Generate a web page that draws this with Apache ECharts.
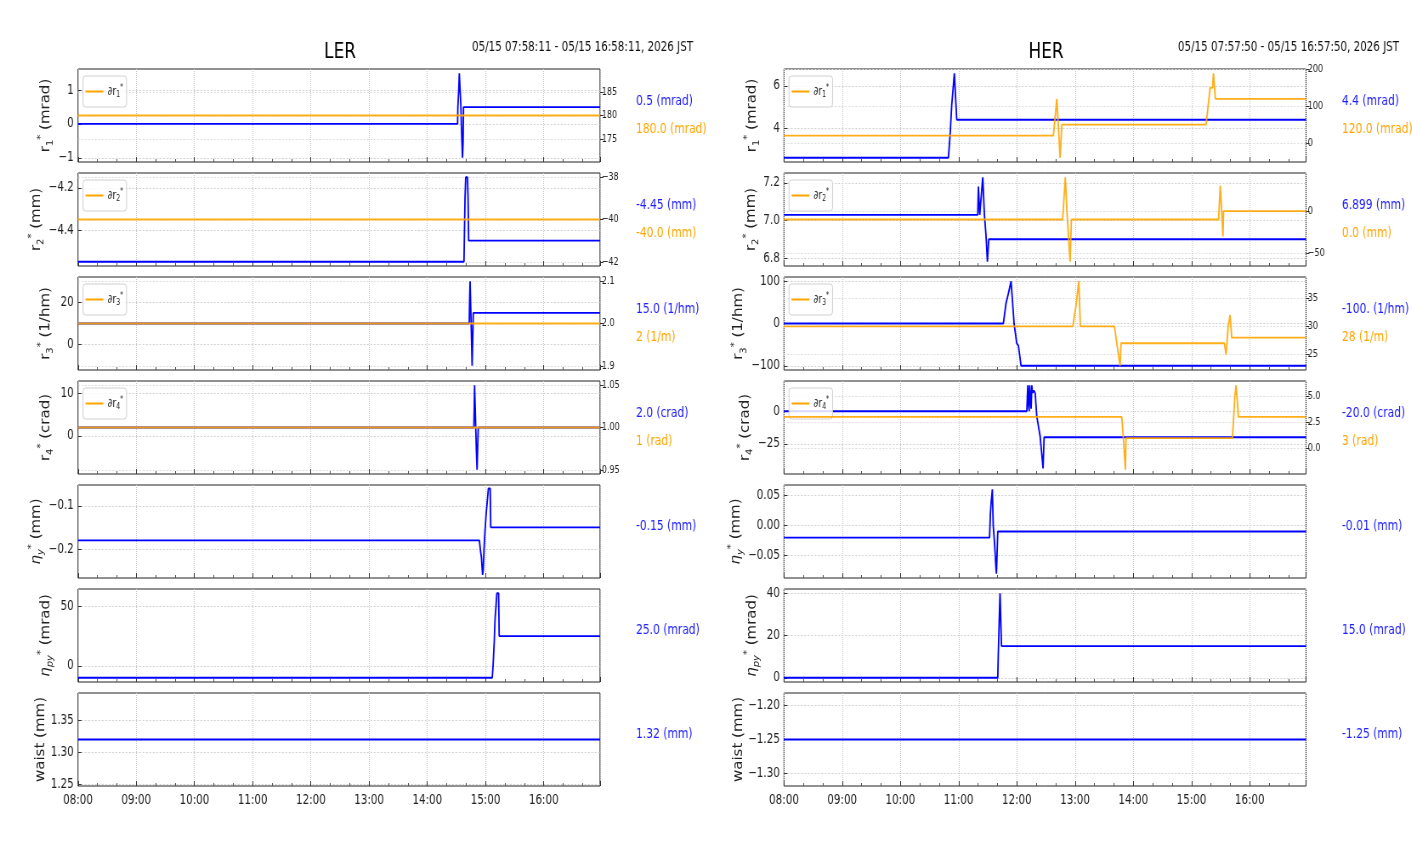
<!DOCTYPE html>
<html>
<head>
<meta charset="utf-8">
<script src="https://cdn.jsdelivr.net/npm/echarts@6/dist/echarts.min.js"></script>
<style>
  html, body { margin: 0; background: #fff; overflow: hidden; }
  /* the reference is drawn with narrow glyphs: render wider, then squeeze horizontally */
  #chart { width: 1661px; height: 864px; transform: scaleX(0.85); transform-origin: 0 0; }
</style>
</head>
<body>
<div id="chart"></div>
<script>
// time axis in hours (08:00 .. 16:58)
const T_MIN = 8;
const T_MAX = 16.967;

// ---- LER (blue = r*, orange = ∂r*) ----
const lerR1 = [[8, 0], [14.52, 0], [14.525, 0.5], [14.54, 1.0], [14.55, 1.5], [14.572, 1.5], [14.578, 0.5], [14.585, 0], [14.595, -0.5], [14.605, -1.0], [14.615, -0.5], [14.622, 0.5], [16.967, 0.5]];
const lerR1b = [[8, 180], [16.967, 180]];
const lerR2 = [[8, -4.55], [14.63, -4.55], [14.636, -4.45], [14.648, -4.25], [14.66, -4.15], [14.69, -4.15], [14.70, -4.25], [14.71, -4.45], [16.967, -4.45]];
const lerR2b = [[8, -40], [16.967, -40]];
const lerR3 = [[8, 10], [14.72, 10], [14.726, 20], [14.735, 30], [14.755, 30], [14.762, 0], [14.77, -10], [14.785, -10], [14.79, 15], [16.967, 15]];
const lerR3b = [[8, 2.0], [16.967, 2.0]];
const lerR4 = [[8, 2], [14.80, 2], [14.806, 7], [14.812, 12], [14.826, 12], [14.832, 2], [14.842, -3], [14.855, -8], [14.865, -8], [14.875, 2], [16.967, 2]];
const lerR4b = [[8, 1.0], [16.967, 1.0]];
const lerEy = [[8, -0.18], [14.895, -0.18], [14.91, -0.20], [14.93, -0.22], [14.95, -0.26], [14.96, -0.25], [14.975, -0.20], [14.99, -0.16], [15.01, -0.12], [15.03, -0.09], [15.05, -0.06], [15.08, -0.06], [15.09, -0.15], [16.967, -0.15]];
const lerEpy = [[8, -10], [15.115, -10], [15.13, 0], [15.15, 20], [15.165, 40], [15.18, 50], [15.195, 61], [15.225, 61], [15.235, 25], [16.967, 25]];
const lerWaist = [[8, 1.32], [16.967, 1.32]];

// ---- HER ----
const herR1 = [[8, 2.6], [10.824, 2.6], [10.852, 3.65], [10.881, 5.1], [10.898, 5.65], [10.926, 6.6], [10.944, 6.6], [10.967, 4.4], [16.967, 4.4]];
const herR1b = [[8, 20], [12.628, 20], [12.686, 120], [12.715, 40], [12.743, -40], [12.772, 50], [15.25, 50], [15.32, 150], [15.36, 150], [15.377, 190], [15.395, 190], [15.41, 120], [16.967, 120]];
const herR2 = [[8, 7.03], [11.328, 7.03], [11.339, 7.18], [11.351, 7.18], [11.362, 7.03], [11.374, 7.03], [11.414, 7.23], [11.425, 7.23], [11.442, 7.03], [11.47, 6.92], [11.494, 6.78], [11.505, 6.78], [11.517, 6.9], [16.967, 6.9]];
const herR2b = [[8, -10], [12.786, -10], [12.832, 40], [12.86, 0], [12.914, -60], [12.937, -10], [15.465, -10], [15.494, 30], [15.51, 10], [15.54, -30], [15.55, 0], [16.967, 0]];
const herR3 = [[8, 0], [11.768, 0], [11.814, 48], [11.854, 71], [11.9, 100], [11.952, 0], [11.998, -47], [12.026, -52], [12.072, -100], [16.967, -100]];
const herR3b = [[8, 30], [12.96, 30], [13.02, 34], [13.064, 38], [13.09, 30], [13.676, 30], [13.73, 26], [13.773, 23], [13.79, 27], [15.565, 27], [15.594, 25], [15.63, 30], [15.663, 32], [15.69, 28], [16.967, 28]];
const herR4 = [[8, 0], [12.171, 0], [12.188, 20], [12.2, 5], [12.211, 0], [12.22, 20], [12.23, 20], [12.245, 2], [12.257, 20], [12.268, 14], [12.29, 16], [12.314, 14], [12.342, -4], [12.399, -19], [12.45, -44], [12.457, -44], [12.468, -20], [16.967, -20]];
const herR4b = [[8, 3], [13.802, 3], [13.83, 1], [13.864, -2], [13.875, 1], [15.703, 1], [15.745, 5], [15.766, 6], [15.79, 6], [15.806, 3], [16.967, 3]];
const herEy = [[8, -0.02], [11.531, -0.02], [11.545, 0.02], [11.56, 0.04], [11.579, 0.06], [11.594, 0.0], [11.617, -0.03], [11.64, -0.07], [11.649, -0.08], [11.66, -0.08], [11.672, -0.01], [16.967, -0.01]];
const herEpy = [[8, 0], [11.672, 0], [11.68, 10], [11.69, 20], [11.70, 30], [11.711, 40], [11.725, 40], [11.735, 15], [16.967, 15]];
const herWaist = [[8, -1.25], [16.967, -1.25]];

// axis ranges and tick values (primary = left, secondary = right)
const lerRanges = [[-1.125, 1.625], [-4.57, -4.13], [-12, 32], [-9, 13], [-0.267, -0.052], [-13.55, 64.55], [1.2474, 1.3926]];
const lerTicks = [[-1, 0, 1], [-4.4, -4.2], [0, 20], [0, 10], [-0.2, -0.1], [0, 50], [1.25, 1.30, 1.35]];
const lerRanges2 = [[170.1, 189.9], [-42.2, -37.8], [1.89, 2.11], [0.945, 1.055]];
const lerTicks2 = [[175, 180, 185], [-42, -40, -38], [1.9, 2.0, 2.1], [0.95, 1.00, 1.05]];
const herRanges = [[2.4, 6.8], [6.7575, 7.2525], [-110, 110], [-48.25, 23.25], [-0.087, 0.067], [-2, 42], [-1.31875, -1.18125]];
const herTicks = [[4, 6], [6.8, 7.0, 7.2], [-100, 0, 100], [-25, 0], [-0.05, 0, 0.05], [0, 20, 40], [-1.30, -1.25, -1.20]];
const herRanges2 = [[-51.5, 201.5], [-65, 45], [22.25, 38.75], [-2.4, 6.4]];
const herTicks2 = [[0, 100, 200], [-50, 0], [25, 30, 35], [0.0, 2.5, 5.0]];
const lerDecimals = [0, 1, 0, 0, 1, 0, 2];
const lerDecimals2 = [0, 0, 1, 2];
const herDecimals = [0, 1, 0, 0, 2, 0, 2];
const herDecimals2 = [0, 0, 0, 1];

const units = ['mrad', 'mm', '1/hm', 'crad', 'mm', 'mrad', 'mm'];
const lerBlueText = ['0.5 (mrad)', '-4.45 (mm)', '15.0 (1/hm)', '2.0 (crad)', '-0.15 (mm)', '25.0 (mrad)', '1.32 (mm)'];
const lerOrangeText = ['180.0 (mrad)', '-40.0 (mm)', '2 (1/m)', '1 (rad)'];
const herBlueText = ['4.4 (mrad)', '6.899 (mm)', '-100. (1/hm)', '-20.0 (crad)', '-0.01 (mm)', '15.0 (mrad)', '-1.25 (mm)'];
const herOrangeText = ['120.0 (mrad)', '0.0 (mm)', '28 (1/m)', '3 (rad)'];

const columns = [
  { title: 'LER', range: '05/15 07:58:11 - 05/15 16:58:11, 2026 JST',
    blue: [lerR1, lerR2, lerR3, lerR4, lerEy, lerEpy, lerWaist], orange: [lerR1b, lerR2b, lerR3b, lerR4b],
    ranges: lerRanges, ticks: lerTicks, dec: lerDecimals, ranges2: lerRanges2, ticks2: lerTicks2, dec2: lerDecimals2,
    blueText: lerBlueText, orangeText: lerOrangeText, left: 78 },
  { title: 'HER', range: '05/15 07:57:50 - 05/15 16:57:50, 2026 JST',
    blue: [herR1, herR2, herR3, herR4, herEy, herEpy, herWaist], orange: [herR1b, herR2b, herR3b, herR4b],
    ranges: herRanges, ticks: herTicks, dec: herDecimals, ranges2: herRanges2, ticks2: herTicks2, dec2: herDecimals2,
    blueText: herBlueText, orangeText: herOrangeText, left: 784 }
];

const K = 0.85;               // horizontal squeeze applied by CSS
const sx = v => v / K;        // screen x -> chart x
const COND = '"DejaVu Sans Condensed", "DejaVu Sans", sans-serif';
const PLOT_W = 522, PLOT_H = 93, ROW_TOP = 69, ROW_STEP = 104;
const BLUE = '#0000ff', ORANGE = '#ffa500';

const fmt = (v, d) => v.toFixed(d).replace('-', '\u2212');

const axisNameText = i => {
  const u = units[i];
  if (i < 4) return `{m|r}{sub|${i + 1}}{sup|*}{m| (${u})}`;
  if (i === 4) return `{it|η}{subi|y}{sup|*}{m| (${u})}`;
  if (i === 5) return `{it|η}{subi|py}{sup|*}{m| (${u})}`;
  return `{m|waist (${u})}`;
};
const nameRich = {
  m: { fontSize: 15, fontFamily: 'DejaVu Sans', color: '#222', lineHeight: 21 },
  it: { fontSize: 15, fontFamily: 'DejaVu Sans', fontStyle: 'italic', color: '#222', lineHeight: 21 },
  sub: { fontSize: 10, fontFamily: 'DejaVu Sans', color: '#222', verticalAlign: 'bottom' },
  subi: { fontSize: 10, fontFamily: 'DejaVu Sans', fontStyle: 'italic', color: '#222', verticalAlign: 'bottom' },
  sup: { fontSize: 10, fontFamily: 'DejaVu Sans', color: '#222', verticalAlign: 'top' }
};

const grids = [], xAxes = [], yAxes = [], series = [], legends = [], graphics = [];

columns.forEach(col => {
  graphics.push({
    type: 'text', x: sx(col.left + 262), y: 52,
    style: { text: col.title, font: '22px ' + COND, fill: '#000', textAlign: 'center', textVerticalAlign: 'middle' }
  });
  graphics.push({
    type: 'text', x: sx(col.left + 615), y: 47,
    style: { text: col.range, font: '13.5px ' + COND, fill: '#111', textAlign: 'right', textVerticalAlign: 'middle' }
  });

  for (let r = 0; r < 7; r++) {
    const g = grids.length;
    const top = ROW_TOP + ROW_STEP * r;
    grids.push({ left: sx(col.left), top, width: sx(PLOT_W), height: PLOT_H, show: true, borderColor: '#222', borderWidth: 1, backgroundColor: 'transparent', outerBoundsMode: 'none' });

    xAxes.push({
      type: 'value', gridIndex: g, min: T_MIN, max: T_MAX, interval: 1,
      axisLine: { show: false, onZero: false },
      axisTick: { show: true, inside: true, length: 5, lineStyle: { color: '#333' } },
      minorTick: { show: true, splitNumber: 3, length: 3, lineStyle: { color: '#555' } },
      splitLine: { show: true, lineStyle: { color: '#c8c8c8', type: 'dotted', width: 1 } },
      axisLabel: {
        show: r === 6, margin: 7, color: '#222', fontSize: 13.5, fontFamily: COND,
        showMaxLabel: false,
        formatter: v => String(Math.round(v)).padStart(2, '0') + ':00'
      }
    });

    const ticks = col.ticks[r];
    const d = col.dec[r];
    yAxes.push({
      type: 'value', gridIndex: g, position: 'left',
      min: col.ranges[r][0], max: col.ranges[r][1],
      name: axisNameText(r), nameLocation: 'middle', nameRotate: 90, nameGap: 27,
      nameTextStyle: { rich: nameRich },
      axisLine: { show: false, onZero: false },
      axisTick: { show: true, inside: true, length: 4, customValues: ticks, lineStyle: { color: '#333' } },
      axisLabel: { customValues: ticks, color: '#222', fontSize: 13.5, fontFamily: COND, margin: 5, formatter: v => fmt(v, d) },
      splitLine: { show: true, lineStyle: { color: '#cfcfcf', type: [2, 2], width: 1 } }
    });
    const yPrimary = yAxes.length - 1;

    series.push({
      name: col.title + ' ' + r, type: 'line', xAxisIndex: g, yAxisIndex: yPrimary,
      data: col.blue[r], showSymbol: false, symbol: 'none', z: 3,
      lineStyle: { color: BLUE, width: 1.8 }, itemStyle: { color: BLUE }
    });

    graphics.push({
      type: 'text', x: sx(col.left + 558), y: top + (r < 4 ? 32 : 41),
      style: { text: col.blueText[r], font: '14px ' + COND, fill: '#2020ff', textAlign: 'left', textVerticalAlign: 'middle' }
    });

    if (r < 4) {
      const t2 = col.ticks2[r];
      const d2 = col.dec2[r];
      yAxes.push({
        type: 'value', gridIndex: g, position: 'right',
        min: col.ranges2[r][0], max: col.ranges2[r][1],
        axisLine: { show: false, onZero: false },
        axisTick: { show: true, inside: false, length: 4, customValues: t2, lineStyle: { color: '#333' } },
        axisLabel: { customValues: t2, color: '#222', fontSize: 10.5, fontFamily: COND, margin: 2, formatter: v => fmt(v, d2) },
        splitLine: { show: true, lineStyle: { color: '#dcdcdc', type: [2, 2], width: 1 } }
      });
      const name = 'dr' + (r + 1);
      series.push({
        name, type: 'line', xAxisIndex: g, yAxisIndex: yAxes.length - 1,
        data: col.orange[r], showSymbol: false, symbol: 'none', z: 10,
        lineStyle: { color: ORANGE, width: 1.8, opacity: 0.9 }, itemStyle: { color: ORANGE }
      });
      legends.push({
        data: [name], left: sx(col.left + 5), top: top + 7, orient: 'vertical',
        icon: 'rect', itemWidth: 21, itemHeight: 2, itemGap: 0,
        padding: [8, 4, 8, 3], borderColor: '#d0d0d0', borderWidth: 1, borderRadius: 3,
        backgroundColor: 'rgba(255,255,255,0.85)',
        selectedMode: false,
        formatter: n => `{m|∂r}{sub|${n.slice(2)}}{sup|*}`,
        textStyle: {
          color: '#222',
          rich: {
            m: { fontSize: 12, fontFamily: COND, lineHeight: 15 },
            sub: { fontSize: 8, fontFamily: COND, verticalAlign: 'bottom' },
            sup: { fontSize: 8, fontFamily: COND, verticalAlign: 'top' }
          }
        }
      });
      graphics.push({
        type: 'text', x: sx(col.left + 558), y: top + 60,
        style: { text: col.orangeText[r], font: '14px ' + COND, fill: ORANGE, textAlign: 'left', textVerticalAlign: 'middle' }
      });
    }
  }
});

const chart = echarts.init(document.getElementById('chart'), null, { renderer: 'canvas' });
chart.setOption({
  animation: false,
  backgroundColor: '#fff',
  grid: grids,
  xAxis: xAxes,
  yAxis: yAxes,
  legend: legends,
  series,
  graphic: graphics
});
</script>
</body>
</html>
